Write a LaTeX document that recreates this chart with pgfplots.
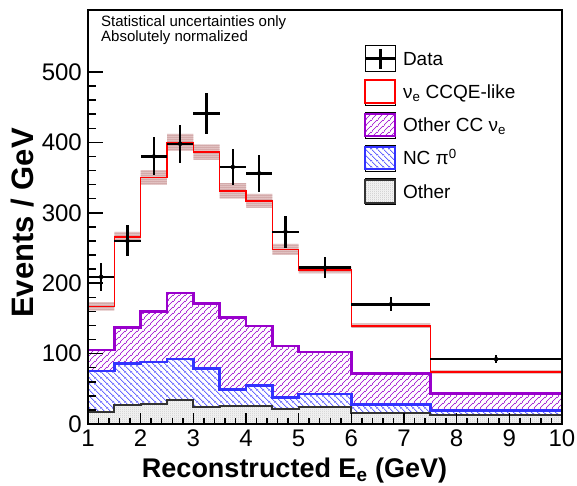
\documentclass[border=0pt]{standalone}
\usepackage{fontspec}
\setmainfont{Liberation Sans}
\usepackage{pgfplots}
\pgfplotsset{compat=1.18}
\usetikzlibrary{patterns}

\definecolor{ccqe}{HTML}{FF0000}
\definecolor{othcc}{HTML}{9900CC}
\definecolor{ncpi}{HTML}{3333FF}
\definecolor{othr}{HTML}{333333}
\definecolor{mcband}{HTML}{E2C2C2}
\definecolor{mcdots}{HTML}{B88080}
\definecolor{othfill}{HTML}{EEEEEE}
\definecolor{othdots}{HTML}{A6A6A6}

% coloured hatch and dot patterns (ROOT fill styles)
\pgfdeclarepatterninherentlycolored{cclines}{\pgfpointorigin}{\pgfpoint{6pt}{6pt}}{\pgfpoint{6pt}{6pt}}{
  \pgfsetcolor{othcc}\pgfsetlinewidth{0.55pt}
  \pgfpathmoveto{\pgfpoint{-1pt}{-1pt}}\pgfpathlineto{\pgfpoint{7pt}{7pt}}
  \pgfpathmoveto{\pgfpoint{-1pt}{5pt}}\pgfpathlineto{\pgfpoint{1pt}{7pt}}
  \pgfpathmoveto{\pgfpoint{5pt}{-1pt}}\pgfpathlineto{\pgfpoint{7pt}{1pt}}
  \pgfusepath{stroke}}
\pgfdeclarepatterninherentlycolored{nclines}{\pgfpointorigin}{\pgfpoint{6pt}{6pt}}{\pgfpoint{6pt}{6pt}}{
  \pgfsetcolor{ncpi}\pgfsetlinewidth{0.55pt}
  \pgfpathmoveto{\pgfpoint{-1pt}{7pt}}\pgfpathlineto{\pgfpoint{7pt}{-1pt}}
  \pgfpathmoveto{\pgfpoint{-1pt}{1pt}}\pgfpathlineto{\pgfpoint{1pt}{-1pt}}
  \pgfpathmoveto{\pgfpoint{5pt}{7pt}}\pgfpathlineto{\pgfpoint{7pt}{5pt}}
  \pgfusepath{stroke}}
\pgfdeclarepatterninherentlycolored{othdotpat}{\pgfpointorigin}{\pgfpoint{2pt}{2pt}}{\pgfpoint{2pt}{2pt}}{
  \pgfsetcolor{othdots}
  \pgfpathcircle{\pgfpoint{1pt}{1pt}}{0.4pt}\pgfusepath{fill}}
\pgfdeclarepatterninherentlycolored{banddotpat}{\pgfpointorigin}{\pgfpoint{2pt}{2pt}}{\pgfpoint{2pt}{2pt}}{
  \pgfsetcolor{mcdots}
  \pgfpathcircle{\pgfpoint{1pt}{1pt}}{0.5pt}\pgfusepath{fill}}

\begin{document}
\begin{tikzpicture}
\begin{axis}[
  at={(0pt,0pt)}, anchor=south west,
  scale only axis, width=474pt, height=414pt,
  xmin=1, xmax=10, ymin=0, ymax=588,
  xtick={1,...,10}, ytick={0,100,...,500},
  minor x tick num=4, minor y tick num=4,
  tick align=inside, xtick pos=bottom, ytick pos=left,
  axis on top,
  axis line style={line width=2pt},
  xtick style={black, line width=1.5pt, /pgfplots/major tick length=11pt, /pgfplots/minor tick length=6pt},
  ytick style={black, line width=1.5pt, /pgfplots/major tick length=15pt, /pgfplots/minor tick length=7.5pt},
  /pgf/number format/assume math mode=true,
  ticklabel style={font=\fontsize{24}{24}\selectfont},
  yticklabel style={inner sep=0pt, xshift=-6pt},
  xticklabel style={inner sep=0pt, yshift=-6pt},
  xlabel={Reconstructed E\textsubscript{e} (GeV)},
  xlabel style={at={(axis description cs:0.4357,-0.1304)}, anchor=base, inner sep=0pt,
    font=\bfseries\fontsize{27}{27}\selectfont},
  ylabel={Events / GeV},
  ylabel style={at={(axis description cs:-0.1160,0.4855)}, anchor=base, inner sep=0pt,
    font=\bfseries\fontsize{31}{31}\selectfont},
  legend style={at={(axis description cs:0.5823,0.9147)}, anchor=north west,
    draw=none, fill=none, inner sep=0pt, outer sep=0pt,
    row sep=6.8pt, column sep=6.5pt,
    font=\fontsize{19}{19}\selectfont,
    nodes={inner sep=0pt, text height=13.6pt, text depth=0pt}},
  legend cell align=left,
]
% MC stat band: upper edge filled, lower edge blanked
\addplot[const plot mark left, draw=none, fill=mcband, postaction={pattern=banddotpat}, forget plot] coordinates {
  (1,173) (1.5,273) (2,360.5) (2.5,412) (3,397) (3.5,342) (4,327) (4.5,256) (5,224) (6,143) (7.5,76.5) (10,76.5)
} \closedcycle;
\addplot[const plot mark left, draw=none, fill=white, forget plot] coordinates {
  (1,161) (1.5,259) (2,339.5) (2.5,388) (3,375) (3.5,320) (4,307) (4.5,240) (5,214) (6,136) (7.5,71.5) (10,71.5)
} \closedcycle;
% other CC nue (stack top)
\addplot[const plot mark left, draw=othcc, line width=2.5pt, fill=white, postaction={pattern=cclines}, forget plot] coordinates {
  (1,105) (1.5,137) (2,160) (2.5,186) (3,171) (3.5,151) (4,139.5) (4.5,111) (5,102) (6,72) (7.5,43.5) (10,43.5)
} \closedcycle;
% NC pi0
\addplot[const plot mark left, draw=ncpi, line width=2.5pt, fill=white, postaction={pattern=nclines}, forget plot] coordinates {
  (1,75.6) (1.5,86) (2,88) (2.5,92) (3,79) (3.5,49) (4,55) (4.5,38) (5,42.5) (6,28) (7.5,19) (10,19)
} \closedcycle;
% other
\addplot[const plot mark left, draw=othr, line width=2pt, fill=othfill, postaction={pattern=othdotpat}, forget plot] coordinates {
  (1,17) (1.5,26.5) (2,28) (2.5,34) (3,23.5) (3.5,25.5) (4,26) (4.5,22) (5,24.5) (6,15) (7.5,13) (10,13)
} \closedcycle;
% total MC (nue CCQE-like on top)
\addplot[const plot mark left, draw=ccqe, line width=1.6pt, forget plot] coordinates {
  (1,167) (1.5,266) (2,350) (2.5,400) (3,386) (3.5,331) (4,317) (4.5,248) (5,219) (6,139.5) (7.5,74) (10,74)
};
% data
\addplot[only marks, mark=none, forget plot,
  error bars/.cd, x dir=both, x explicit, y dir=both, y explicit,
  error bar style={line width=2.5pt, black}, error mark=none] coordinates {
  (1.25,209) +- (0.25,20)
  (1.75,260) +- (0.25,22)
  (2.25,380) +- (0.25,27)
  (2.75,398) +- (0.25,27)
  (3.25,441) +- (0.25,29)
  (3.75,365) +- (0.25,26)
  (4.25,356) +- (0.25,26)
  (4.75,273) +- (0.25,23)
  (5.5,222) +- (0.5,15)
  (6.75,170) +- (0.75,10)
  (8.75,92) +- (1.25,5.5)
};

\addlegendimage{legend image code/.code={
  \path (0pt,-13pt) rectangle (30pt,13pt);
  \draw[black, line width=2.5pt] (0pt,0pt) -- (30pt,0pt) (15pt,-10pt) -- (15pt,10pt);}}
\addlegendentry{Data}
\addlegendimage{legend image code/.code={
  \path (0pt,-13pt) rectangle (30pt,13pt);
  \draw[ccqe, line width=2pt, fill=white] (0pt,-11.3pt) rectangle (30pt,11.3pt);}}
\addlegendentry{ν\textsubscript{e} CCQE-like}
\addlegendimage{legend image code/.code={
  \path (0pt,-13pt) rectangle (30pt,13pt);
  \draw[othcc, line width=2pt, fill=white, postaction={pattern=cclines}] (0pt,-11.3pt) rectangle (30pt,11.3pt);}}
\addlegendentry{Other CC ν\textsubscript{e}}
\addlegendimage{legend image code/.code={
  \path (0pt,-13pt) rectangle (30pt,13pt);
  \draw[ncpi, line width=2pt, fill=white, postaction={pattern=nclines}] (0pt,-11.3pt) rectangle (30pt,11.3pt);}}
\addlegendentry{NC π\textsuperscript{0}}
\addlegendimage{legend image code/.code={
  \path (0pt,-13pt) rectangle (30pt,13pt);
  \draw[othr, line width=2pt, fill=othfill, postaction={pattern=othdotpat}] (0pt,-11.3pt) rectangle (30pt,11.3pt);}}
\addlegendentry{Other}

\node[anchor=base west, inner sep=0pt, font=\fontsize{15}{15}\selectfont]
  at (axis description cs:0.0274,0.9597) {Statistical uncertainties only};
\node[anchor=base west, inner sep=0pt, font=\fontsize{15}{15}\selectfont]
  at (axis description cs:0.0274,0.9251) {Absolutely normalized};
\end{axis}
\pgfresetboundingbox
\path[use as bounding box] (-88pt,-61pt) rectangle (489pt,424pt);
\end{tikzpicture}
\end{document}
